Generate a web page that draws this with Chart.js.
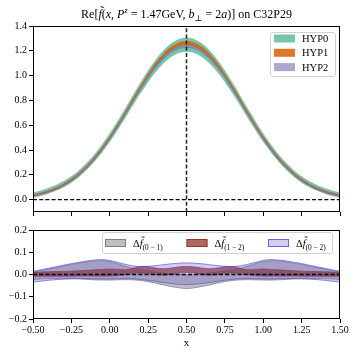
<!DOCTYPE html>
<html lang="en">
<head>
<meta charset="UTF-8">
<title>Re f(x) on C32P29</title>
<script src="https://cdn.jsdelivr.net/npm/chart.js"></script>
<style>
  body { margin: 0; background: #fff; }
  #wrap { position: relative; width: 357px; height: 357px; }
  canvas { position: absolute; left: 0; }
</style>
</head>
<body>
<div id="wrap">
  <canvas id="topChart" width="357" height="222" style="top:0"></canvas>
  <canvas id="botChart" width="357" height="135" style="top:222px"></canvas>
</div>
<script>
// --- data ---
const xTop = [-0.5, -0.4, -0.3, -0.2, -0.1, 0.0, 0.1, 0.2, 0.3, 0.4, 0.5, 0.6, 0.7, 0.8, 0.9, 1.0, 1.1, 1.2, 1.3, 1.4, 1.5];
const hyp0Mid = [0.035, 0.070, 0.124, 0.210, 0.335, 0.500, 0.695, 0.900, 1.080, 1.205, 1.250, 1.205, 1.080, 0.900, 0.695, 0.500, 0.335, 0.210, 0.124, 0.070, 0.035];
const hyp0Err = [0.022, 0.023, 0.025, 0.027, 0.030, 0.035, 0.040, 0.045, 0.050, 0.055, 0.058, 0.055, 0.050, 0.045, 0.040, 0.035, 0.030, 0.027, 0.025, 0.023, 0.022];
const hyp1Mid = [0.033, 0.066, 0.120, 0.207, 0.333, 0.500, 0.697, 0.905, 1.090, 1.218, 1.263, 1.218, 1.090, 0.905, 0.697, 0.500, 0.333, 0.207, 0.120, 0.066, 0.033];
const hyp1Err = [0.008, 0.009, 0.010, 0.011, 0.012, 0.013, 0.014, 0.015, 0.016, 0.017, 0.017, 0.017, 0.016, 0.015, 0.014, 0.013, 0.012, 0.011, 0.010, 0.009, 0.008];
const hyp2Mid = [0.031, 0.063, 0.116, 0.202, 0.328, 0.493, 0.688, 0.892, 1.072, 1.195, 1.236, 1.195, 1.072, 0.892, 0.688, 0.493, 0.328, 0.202, 0.116, 0.063, 0.031];
const hyp2Err = [0.008, 0.008, 0.009, 0.010, 0.011, 0.012, 0.012, 0.013, 0.013, 0.013, 0.013, 0.013, 0.013, 0.013, 0.012, 0.012, 0.011, 0.010, 0.009, 0.008, 0.008];

const xBot = [-0.5, -0.45, -0.4, -0.35, -0.3, -0.25, -0.2, -0.15, -0.1, -0.05, 0.0, 0.05, 0.1, 0.15, 0.2, 0.25, 0.3, 0.35, 0.4, 0.45, 0.5,
  0.55, 0.6, 0.65, 0.7, 0.75, 0.8, 0.85, 0.9, 0.95, 1.0, 1.05, 1.1, 1.15, 1.2, 1.25, 1.3, 1.35, 1.4, 1.45, 1.5];
const d01Lo = [-0.022, -0.020, -0.019, -0.018, -0.018, -0.019, -0.020, -0.022, -0.024, -0.025, -0.025, -0.024, -0.023, -0.024, -0.027, -0.032, -0.039, -0.047, -0.054, -0.060, -0.063,
  -0.060, -0.054, -0.047, -0.039, -0.032, -0.027, -0.024, -0.023, -0.024, -0.025, -0.025, -0.024, -0.022, -0.020, -0.019, -0.018, -0.018, -0.019, -0.020, -0.022];
const d01Hi = [0.011, 0.017, 0.024, 0.031, 0.038, 0.045, 0.051, 0.057, 0.061, 0.062, 0.058, 0.049, 0.038, 0.028, 0.021, 0.016, 0.011, 0.007, 0.003, 0.000, -0.002,
  0.000, 0.003, 0.007, 0.011, 0.016, 0.021, 0.028, 0.038, 0.049, 0.058, 0.062, 0.061, 0.057, 0.051, 0.045, 0.038, 0.031, 0.024, 0.017, 0.011];
const d12Lo = [-0.008, -0.008, -0.008, -0.008, -0.008, -0.008, -0.007, -0.007, -0.007, -0.007, -0.007, -0.005, -0.001, 0.004, 0.007, 0.004, -0.001, -0.003, 0.001, 0.007, 0.009,
  0.007, 0.001, -0.003, -0.001, 0.004, 0.007, 0.004, -0.001, -0.005, -0.007, -0.007, -0.007, -0.007, -0.007, -0.008, -0.008, -0.008, -0.008, -0.008, -0.008];
const d12Hi = [0.010, 0.011, 0.012, 0.013, 0.014, 0.015, 0.017, 0.019, 0.021, 0.023, 0.025, 0.023, 0.021, 0.028, 0.036, 0.035, 0.029, 0.026, 0.029, 0.034, 0.036,
  0.034, 0.029, 0.026, 0.029, 0.035, 0.036, 0.028, 0.021, 0.023, 0.025, 0.023, 0.021, 0.019, 0.017, 0.015, 0.014, 0.013, 0.012, 0.011, 0.010];
const d02Lo = [-0.034, -0.030, -0.026, -0.023, -0.021, -0.019, -0.018, -0.018, -0.019, -0.020, -0.020, -0.019, -0.018, -0.019, -0.022, -0.026, -0.031, -0.036, -0.041, -0.044, -0.045,
  -0.044, -0.041, -0.036, -0.031, -0.026, -0.022, -0.019, -0.018, -0.019, -0.020, -0.020, -0.019, -0.018, -0.018, -0.019, -0.021, -0.023, -0.026, -0.030, -0.034];
const d02Hi = [0.015, 0.021, 0.028, 0.035, 0.042, 0.049, 0.055, 0.061, 0.065, 0.067, 0.063, 0.055, 0.046, 0.039, 0.036, 0.037, 0.040, 0.044, 0.048, 0.051, 0.052,
  0.051, 0.048, 0.044, 0.040, 0.037, 0.036, 0.039, 0.046, 0.055, 0.063, 0.067, 0.065, 0.061, 0.055, 0.049, 0.042, 0.035, 0.028, 0.021, 0.015];

const xTicks = [-0.5, -0.25, 0, 0.25, 0.5, 0.75, 1.0, 1.25, 1.5];
const yTicksTop = [0, 0.2, 0.4, 0.6, 0.8, 1.0, 1.2, 1.4];
const yTicksBot = [-0.2, -0.1, 0, 0.1, 0.2];
const hypLabels = ['HYP0', 'HYP1', 'HYP2'];
const diffSubs = ['(0 \u2212 1)', '(1 \u2212 2)', '(0 \u2212 2)'];

// colours
const hypFace = ['rgba(27,158,119,0.6)', 'rgba(217,95,2,0.85)', 'rgba(117,112,179,0.6)'];
const diffFace = ['rgba(128,128,128,0.5)', 'rgba(140,40,30,0.7)', 'rgba(106,90,205,0.3)'];
const diffEdge = ['rgba(110,110,110,0.8)', 'rgba(140,40,30,0.8)', 'rgba(80,70,230,0.8)'];

const SERIF = '"Liberation Serif", "DejaVu Serif", serif';
const minus = s => s.replace('-', '\u2212');

// rich text: parts of {t, it, s (scale), dy (fraction of size)}
function partFont(p, size) {
  return (p.it ? 'italic ' : '') + (size * (p.s || 1)) + 'px ' + SERIF;
}
function richWidth(ctx, parts, size) {
  let w = 0;
  parts.forEach(p => { ctx.font = partFont(p, size); w += ctx.measureText(p.t).width; });
  return w;
}
function drawRich(ctx, parts, x, y, size) {
  ctx.textAlign = 'left';
  ctx.textBaseline = 'alphabetic';
  parts.forEach(p => {
    ctx.font = partFont(p, size);
    ctx.fillText(p.t, x, y + (p.dy || 0) * size);
    x += ctx.measureText(p.t).width;
  });
}

const titleParts = [
  {t: 'Re['}, {t: 'f\u0303', it: 1}, {t: '('}, {t: 'x', it: 1}, {t: ', '},
  {t: 'P', it: 1}, {t: 'z', it: 1, s: 0.7, dy: -0.38}, {t: ' = 1.47GeV, '},
  {t: 'b', it: 1}, {t: '\u22a5', s: 0.7, dy: 0.25}, {t: ' = 2'}, {t: 'a', it: 1},
  {t: ')] on C32P29'}
];

// spines, title and the boxed legend
const decor = {
  id: 'decor',
  afterDatasetsDraw(chart) {
    const a = chart.chartArea, ctx = chart.ctx;
    ctx.save();
    ctx.strokeStyle = '#000';
    ctx.lineWidth = 1;
    ctx.strokeRect(Math.round(a.left) + 0.5, Math.round(a.top) + 0.5,
      Math.round(a.right - a.left) - 1, Math.round(a.bottom - a.top) - 1);
    ctx.restore();
  },
  afterDraw(chart, args, o) {
    const ctx = chart.ctx;
    ctx.save();
    if (o.title) {
      ctx.fillStyle = '#000';
      const w = richWidth(ctx, o.title, 12);
      const cx = (chart.chartArea.left + chart.chartArea.right) / 2;
      drawRich(ctx, o.title, cx - w / 2, 18, 12);
    }
    if (o.frame) {
      const [fx, fy, fw, fh] = o.frame;
      ctx.beginPath();
      ctx.roundRect(fx + 0.5, fy + 0.5, fw, fh, 2.5);
      ctx.fillStyle = 'rgba(255,255,255,0.8)';
      ctx.fill();
      ctx.strokeStyle = '#d0d0d0';
      ctx.lineWidth = 1;
      ctx.stroke();
      o.items.forEach(it => {
        ctx.fillStyle = it.face;
        ctx.fillRect(it.x, it.y - 4, 21, 8);
        if (it.edge) {
          ctx.strokeStyle = it.edge;
          ctx.strokeRect(it.x + 0.5, it.y - 3.5, 20, 7);
        }
        ctx.fillStyle = '#000';
        drawRich(ctx, it.parts, it.x + 28, it.y + 3.5, 10.5);
      });
    }
    ctx.restore();
  }
};

function band(xs, lo, hi, face, edge, width, order) {
  return [
    {data: xs.map((x, i) => ({x, y: lo[i]})), borderColor: edge, borderWidth: width, fill: false, order},
    {data: xs.map((x, i) => ({x, y: hi[i]})), borderColor: edge, borderWidth: width, fill: '-1', backgroundColor: face, order}
  ];
}
function dashLine(pts, color, width, order) {
  return {data: pts.map(p => ({x: p[0], y: p[1]})), borderColor: color, borderWidth: width,
    borderDash: [4, 2.2], fill: false, order, cubicInterpolationMode: 'default', tension: 0};
}

const tickFont = {family: SERIF, size: 10};
function xScale(showLabels, height, title) {
  return {
    type: 'linear', min: -0.5, max: 1.5,
    afterBuildTicks: s => { s.ticks = xTicks.map(v => ({value: v})); },
    ticks: {display: showLabels, color: '#000', font: tickFont, padding: 1, maxRotation: 0,
      callback: v => minus(v.toFixed(2))},
    grid: {drawOnChartArea: false, tickLength: 4, color: '#000', tickWidth: 1},
    border: {display: false},
    title: title ? {display: true, text: 'x', color: '#000', font: {family: SERIF, size: 11}, padding: {top: 0, bottom: 7}} : {display: false},
    afterFit: s => { s.height = height; }
  };
}
function yScale(min, max, ticks) {
  return {
    min, max,
    afterBuildTicks: s => { s.ticks = ticks.map(v => ({value: v})); },
    ticks: {color: '#000', font: tickFont, padding: 2, callback: v => minus(v.toFixed(1))},
    grid: {drawOnChartArea: false, tickLength: 4, color: '#000', tickWidth: 1},
    border: {display: false},
    afterFit: s => { s.width = 33; }
  };
}

const common = {
  responsive: false, animation: false, events: [], devicePixelRatio: 1,
  elements: {point: {radius: 0}, line: {cubicInterpolationMode: 'monotone'}},
};

// top panel
const topSets = [
  ...band(xTop, hyp0Mid.map((m, i) => m - hyp0Err[i]), hyp0Mid.map((m, i) => m + hyp0Err[i]), hypFace[0], hypFace[0], 0, 6),
  ...band(xTop, hyp1Mid.map((m, i) => m - hyp1Err[i]), hyp1Mid.map((m, i) => m + hyp1Err[i]), hypFace[1], hypFace[1], 0, 5),
  ...band(xTop, hyp2Mid.map((m, i) => m - hyp2Err[i]), hyp2Mid.map((m, i) => m + hyp2Err[i]), hypFace[2], hypFace[2], 0, 4),
  dashLine([[-0.5, 0], [1.5, 0]], '#000', 1.3, 1),
  dashLine([[0.5, -0.1], [0.5, 1.4]], '#222', 1.5, 0)
];
new Chart(document.getElementById('topChart'), {
  type: 'line',
  data: {datasets: topSets},
  options: {
    ...common,
    layout: {padding: {top: 26, right: 17, left: 0, bottom: 0}},
    scales: {x: xScale(false, 10, false), y: yScale(-0.1, 1.4, yTicksTop)},
    plugins: {
      legend: {display: false}, tooltip: {enabled: false},
      decor: {
        title: titleParts,
        frame: [270, 32, 65, 44],
        items: hypLabels.map((t, i) => ({x: 274, y: 38.5 + i * 14.3, face: hypFace[i], parts: [{t}]}))
      }
    }
  },
  plugins: [decor]
});

// bottom panel
const botSets = [
  ...band(xBot, d01Lo, d01Hi, diffFace[0], diffEdge[0], 0.8, 6),
  ...band(xBot, d12Lo, d12Hi, diffFace[1], diffEdge[1], 0.8, 5),
  ...band(xBot, d02Lo, d02Hi, diffFace[2], diffEdge[2], 0.8, 4),
  dashLine([[-0.5, 0], [1.5, 0]], '#000', 1.3, 0)
];
new Chart(document.getElementById('botChart'), {
  type: 'line',
  data: {datasets: botSets},
  options: {
    ...common,
    layout: {padding: {top: 5, right: 17, left: 0, bottom: 0}},
    scales: {x: xScale(true, 38, true), y: yScale(-0.2, 0.2, yTicksBot)},
    plugins: {
      legend: {display: false}, tooltip: {enabled: false},
      decor: {
        frame: [102, 10, 230, 21],
        items: diffSubs.map((s, i) => ({x: 105 + i * 81.5, y: 21, face: diffFace[i], edge: diffEdge[i],
          parts: [{t: '\u0394'}, {t: 'f\u0303', it: 1}, {t: s, s: 0.7, dy: 0.3}]}))
      }
    }
  },
  plugins: [decor]
});
</script>
</body>
</html>
